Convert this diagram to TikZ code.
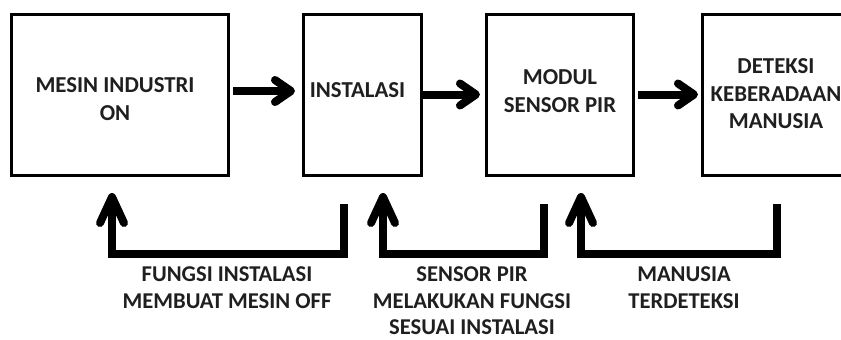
\documentclass[tikz,border=0pt]{standalone}
\usepackage{fontspec}
\setmainfont{Carlito}
\usetikzlibrary{arrows.meta}
\begin{document}
\begin{tikzpicture}[x=1pt,y=-1pt,
  box/.style={draw=black, line width=3pt, inner sep=0pt, outer sep=0pt, anchor=north west},
  txt/.style={font=\fontsize{22.8}{27.5}\selectfont\bfseries, align=center, text=black!88},
  lbl/.style={font=\fontsize{22.6}{26.5}\selectfont\bfseries, align=center, text=black!88},
  flow/.style={line width=8pt, -{Straight Barb[length=16pt,width=22pt,round]}},
  back/.style={line width=8pt, miter limit=4, -{Straight Barb[length=26pt,width=24pt,round]}}]
\useasboundingbox (0,0) rectangle (841,340);
% boxes
\node[box, minimum width=217pt, minimum height=161pt] (b1) at (11,14) {};
\node[box, minimum width=118pt, minimum height=161pt] (b2) at (303,14) {};
\node[box, minimum width=147pt, minimum height=161pt] (b3) at (486,14) {};
\node[box, minimum width=160pt, minimum height=161pt] (b4) at (702,14) {};
% box texts
\node[txt] (t1) at (115,99) {MESIN INDUSTRI\\ON};
\node[txt] (t2) at (357.5,90) {INSTALASI};
\node[txt] (t3) at (560,91) {MODUL\\SENSOR PIR};
\node[txt] (t4) at (776,94) {DETEKSI\\KEBERADAAN\\MANUSIA};
% forward arrows
\draw[flow] ([xshift=5pt,yshift=3.5pt]b1.east) -- ([xshift=-8pt,yshift=3.5pt]b2.west);
\draw[flow] ([xshift=1pt]b2.east) -- ([xshift=-6pt]b3.west);
\draw[flow] ([xshift=5pt]b3.east) -- ([xshift=-4pt]b4.west);
% feedback arrows
\coordinate (fas) at (344,204); \coordinate (fab) at (112,254); \coordinate (fat) at (112,193);
\coordinate (fbs) at (544,204); \coordinate (fbb) at (383,254); \coordinate (fbt) at (383,193);
\coordinate (fcs) at (777,204); \coordinate (fcb) at (581,254); \coordinate (fct) at (581,193);
\draw[back] (fas) |- (fab) -- (fat);
\draw[back] (fbs) |- (fbb) -- (fbt);
\draw[back] (fcs) |- (fcb) -- (fct);
% labels
\node[lbl] (la) at (227,287.75) {FUNGSI INSTALASI\\MEMBUAT MESIN OFF};
\node[lbl] (lb) at (472,301) {SENSOR PIR\\MELAKUKAN FUNGSI\\SESUAI INSTALASI};
\node[lbl] (lc) at (684,287.75) {MANUSIA\\TERDETEKSI};
\end{tikzpicture}
\end{document}
